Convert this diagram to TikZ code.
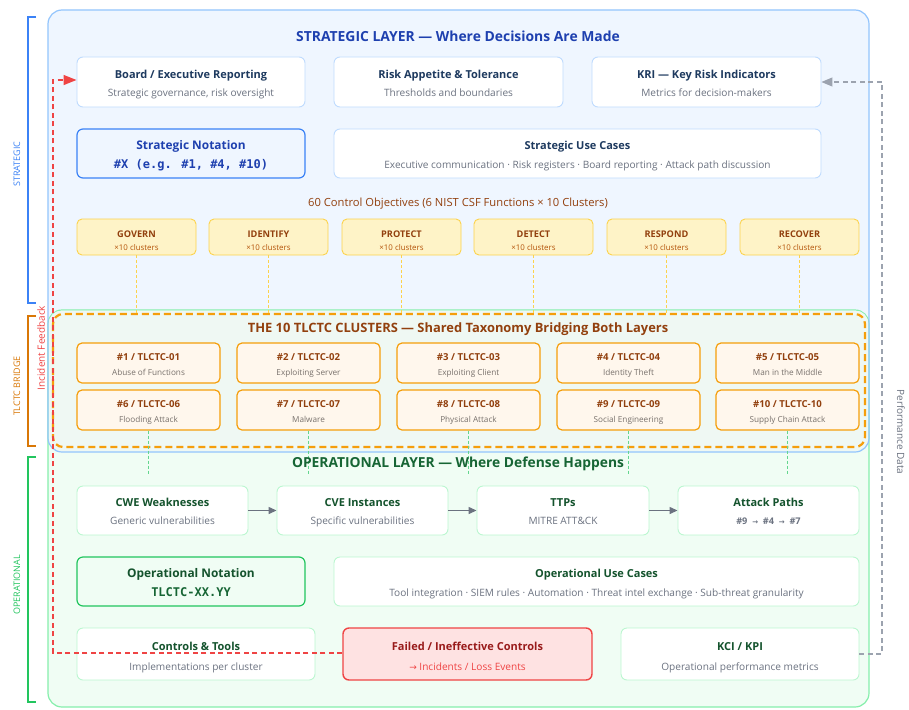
\documentclass[tikz,border=0pt]{standalone}
\usepackage{fontspec}
\setmainfont{Open Sans}
\newfontfamily\monof{DejaVu Sans Mono}
\newfontfamily\symf{DejaVu Sans}
\usetikzlibrary{fit,arrows.meta,calc}
\definecolor{stratFill}{HTML}{EFF6FF}
\definecolor{stratBorder}{HTML}{93C5FD}
\definecolor{opFill}{HTML}{F0FDF4}
\definecolor{opBorder}{HTML}{86EFAC}
\definecolor{blueDark}{HTML}{1E40AF}
\definecolor{blueMid}{HTML}{3B82F6}
\definecolor{cardBlue}{HTML}{BFDBFE}
\definecolor{navy}{HTML}{1E3A5F}
\definecolor{grayTxt}{HTML}{6B7280}
\definecolor{nistFill}{HTML}{FEF3C7}
\definecolor{nistBorder}{HTML}{FCD34D}
\definecolor{brown}{HTML}{92400E}
\definecolor{brownLight}{HTML}{B45309}
\definecolor{orange}{HTML}{F59E0B}
\definecolor{orangeDark}{HTML}{D97706}
\definecolor{clFill}{HTML}{FFF7ED}
\definecolor{clSub}{HTML}{78716C}
\definecolor{greenDark}{HTML}{166534}
\definecolor{greenTitle}{HTML}{14532D}
\definecolor{greenMid}{HTML}{22C55E}
\definecolor{cardGreen}{HTML}{BBF7D0}
\definecolor{redFill}{HTML}{FEE2E2}
\definecolor{redMain}{HTML}{EF4444}
\definecolor{redDark}{HTML}{991B1B}
\definecolor{perfGray}{HTML}{9CA3AF}
\definecolor{arrowGray}{HTML}{6B7280}
\definecolor{bridgeFill}{HTML}{EFF8F3}
\tikzset{
  layer/.style={rounded corners=14pt, line width=1.2pt},
  scard/.style={draw=cardBlue, fill=white, rounded corners=6pt, line width=0.9pt},
  snote/.style={draw=blueMid, fill=stratFill, rounded corners=6pt, line width=1.2pt},
  nistcard/.style={draw=nistBorder, fill=nistFill, rounded corners=5pt, line width=0.9pt},
  clcard/.style={draw=orange, fill=clFill, rounded corners=5pt, line width=1.2pt},
  ocard/.style={draw=cardGreen, fill=white, rounded corners=6pt, line width=0.9pt},
  onote/.style={draw=greenMid, fill=opFill, rounded corners=6pt, line width=1.2pt},
  redcard/.style={draw=redMain, fill=redFill, rounded corners=6pt, line width=1.4pt},
  stitle/.style={text=navy, font=\fontsize{11}{13}\selectfont\bfseries, inner sep=0pt, text height=8.2pt, text depth=2.4pt},
  otitle/.style={text=greenTitle, font=\fontsize{11}{13}\selectfont\bfseries, inner sep=0pt, text height=8.2pt, text depth=2.4pt},
  subtxt/.style={text=grayTxt, font=\fontsize{10.1}{12}\selectfont, inner sep=0pt, text height=7.6pt, text depth=2.2pt},
  ntitle/.style={text=brown, font=\fontsize{9.2}{11}\selectfont\bfseries, inner sep=0pt, text height=6.8pt, text depth=2pt},
  nsub/.style={text=brownLight, font=\fontsize{7.9}{9}\selectfont, inner sep=0pt, text height=5.9pt, text depth=1.8pt},
  ctitle/.style={text=brown, font=\fontsize{9.6}{11}\selectfont\bfseries, inner sep=0pt, text height=7.1pt, text depth=2.1pt},
  csub/.style={text=clSub, font=\fontsize{8.2}{10}\selectfont, inner sep=0pt, text height=6.1pt, text depth=1.8pt},
  bracketlbl/.style={font=\fontsize{9}{11}\selectfont, inner sep=0pt},
  flowarrow/.style={draw=arrowGray, line width=1.3pt, -{Triangle[length=8pt,width=7pt]}},
  nistlink/.style={draw=nistBorder, line width=0.8pt, dash pattern=on 3pt off 2pt},
  cllink/.style={draw=greenMid!70, line width=0.8pt, dash pattern=on 3pt off 2pt},
}
% #1 name, #2 style, #3 corner, #4 corner, #5 title style, #6 title, #7 sub style, #8 sub, #9 title offset; sub offset via \suboff
\newcommand\suboff{10pt}
\newcommand\mkbox[9]{%
  \node[#2, fit={#3 #4}, inner sep=0pt] (#1) {};
  \node[#5] (#1-t) at ([yshift=#9-1.8pt]#1.center) {#6};
  \node[#7] (#1-s) at ([yshift=-\suboff-1.8pt]#1.center) {#8};
}
\begin{document}
\begin{tikzpicture}[x=1pt,y=-1pt]
\useasboundingbox (0,0) rectangle (909,709);
\fill[white] (0,0) rectangle (909,709);
% layers
\fill[stratFill, layer] (48,10) rectangle (869,452);
\path[fill=opFill, draw=opBorder, layer] (48,310) rectangle (869,707);
\fill[bridgeFill, rounded corners=13pt] (48.6,310.6) -- (868.4,310.6) -- (868.4,451.4) -- (48.6,451.4) -- cycle;
\draw[stratBorder, layer] (48,10) rectangle (869,452);
\node[text=blueDark, font=\fontsize{13.9}{16}\selectfont\bfseries, inner sep=0pt] (stitle) at (458,36) {STRATEGIC LAYER — Where Decisions Are Made};
% left brackets
\draw[blueMid, line width=1.2pt] (36,17) -- (28,17) -- (28,303) -- (36,303);
\node[bracketlbl, text=blueMid, rotate=90] (lblS) at (17,164) {STRATEGIC};
\draw[orangeDark, line width=1.6pt] (36,316) -- (28,316) -- (28,446) -- (36,446);
\node[bracketlbl, text=orangeDark, rotate=90] (lblB) at (17,386) {TLCTC BRIDGE};
\draw[greenMid, line width=1.2pt] (36,457) -- (28,457) -- (28,702) -- (36,702);
\node[bracketlbl, text=greenMid, rotate=90] (lblO) at (17,585) {OPERATIONAL};
% strategic row 1
\renewcommand\suboff{10pt}
\mkbox{board}{scard}{(77,57)}{(305,107)}{stitle}{Board / Executive Reporting}{subtxt}{Strategic governance, risk oversight}{8pt}
\mkbox{risk}{scard}{(334,57)}{(563,107)}{stitle}{Risk Appetite \& Tolerance}{subtxt}{Thresholds and boundaries}{8pt}
\mkbox{kri}{scard}{(592,57)}{(821,107)}{stitle}{KRI — Key Risk Indicators}{subtxt}{Metrics for decision-makers}{8pt}
% strategic row 2
\node[snote, fit={(77,129) (305,178)}, inner sep=0pt] (snot) {};
\node[text=blueDark, font=\fontsize{11.9}{14}\selectfont\bfseries, inner sep=0pt, text height=8.8pt, text depth=2.6pt] (snot-t) at ([yshift=7pt]snot.center) {Strategic Notation};
\node[text=blueDark, font=\fontsize{12}{14}\selectfont\monof\bfseries, inner sep=0pt, text height=8.8pt, text depth=2.6pt] (snot-s) at ([yshift=-12pt]snot.center) {\#X (e.g. \#1, \#4, \#10)};
\renewcommand\suboff{10.5pt}
\mkbox{suse}{scard}{(334,129)}{(821,178)}{stitle}{Strategic Use Cases}{subtxt}{Executive communication · Risk registers · Board reporting · Attack path discussion}{8.5pt}
% NIST
\node[text=brown, font=\fontsize{11.2}{13}\selectfont, inner sep=0pt] (ctrlobj) at (458,204) {60 Control Objectives (6 NIST CSF Functions × 10 Clusters)};
\renewcommand\suboff{10pt}
\foreach \nm/\lbl/\xa in {gov/GOVERN/77, ide/IDENTIFY/209, pro/PROTECT/342, det/DETECT/474, res/RESPOND/607, rec/RECOVER/740}{
  \mkbox{\nm}{nistcard}{(\xa,219)}{(\xa+119,255)}{ntitle}{\lbl}{nsub}{×10 clusters}{4pt}
}
% bridge
\draw[orange, line width=2.2pt, dash pattern=on 7pt off 4pt, rounded corners=10pt] (53,314) rectangle (865,447);
\node[fit={(53,314) (865,447)}, inner sep=0pt] (bridge) {};
\foreach \nm in {gov,ide,pro,det,res,rec}{
  \draw[nistlink] (\nm.south) -- (\nm.south |- bridge.north);
}
\node[text=brown, font=\fontsize{12.9}{15}\selectfont\bfseries, inner sep=0pt] (btitle) at (458,329) {THE 10 TLCTC CLUSTERS — Shared Taxonomy Bridging Both Layers};
\renewcommand\suboff{9pt}
\foreach \i/\lbl/\xa in {1/Abuse of Functions/77, 2/Exploiting Server/237, 3/Exploiting Client/397, 4/Identity Theft/557, 5/Man in the Middle/716}{
  \mkbox{c\i}{clcard}{(\xa,343)}{(\xa+143,383)}{ctitle}{\#\i\ / TLCTC-0\i}{csub}{\lbl}{7pt}
}
\foreach \i/\num/\lbl/\xa in {6/06/Flooding Attack/77, 7/07/Malware/237, 8/08/Physical Attack/397, 9/09/Social Engineering/557, 10/10/Supply Chain Attack/716}{
  \mkbox{c\i}{clcard}{(\xa,390)}{(\xa+143,430)}{ctitle}{\#\i\ / TLCTC-\num}{csub}{\lbl}{7pt}
}
\coordinate (optop) at (0,474);
\foreach \i in {6,7,8,9,10}{
  \draw[cllink] (c\i.south) -- (c\i.south |- optop);
}
\node[text=greenDark, font=\fontsize{13.8}{16}\selectfont\bfseries, inner sep=0pt] (otitle) at (458,464) {OPERATIONAL LAYER — Where Defense Happens};
% operational row 1
\renewcommand\suboff{9.5pt}
\mkbox{cwe}{ocard}{(77,486)}{(248,535)}{otitle}{CWE Weaknesses}{subtxt}{Generic vulnerabilities}{8.5pt}
\mkbox{cve}{ocard}{(277,486)}{(448,535)}{otitle}{CVE Instances}{subtxt}{Specific vulnerabilities}{8.5pt}
\mkbox{ttp}{ocard}{(477,486)}{(649,535)}{otitle}{TTPs}{subtxt}{MITRE ATT\&CK}{8.5pt}
\mkbox{ap}{ocard}{(678,486)}{(859,535)}{otitle}{Attack Paths}{subtxt}{\bfseries\fontsize{9.2}{11}\selectfont\#9 \ {\symf\fontsize{7}{9}\selectfont →} \ \#4 \ {\symf\fontsize{7}{9}\selectfont →} \ \#7}{8.5pt}
\draw[flowarrow] (cwe) -- (cve);
\draw[flowarrow] (cve) -- (ttp);
\draw[flowarrow] (ttp) -- (ap);
% operational row 2
\node[onote, fit={(77,557) (305,606)}, inner sep=0pt] (onot) {};
\node[text=greenTitle, font=\fontsize{11.9}{14}\selectfont\bfseries, inner sep=0pt, text height=8.8pt, text depth=2.6pt] (onot-t) at ([yshift=7pt]onot.center) {Operational Notation};
\node[text=greenDark, font=\fontsize{12}{14}\selectfont\monof\bfseries, inner sep=0pt, text height=8.8pt, text depth=2.6pt] (onot-s) at ([yshift=-12pt]onot.center) {TLCTC-XX.YY};
\renewcommand\suboff{10.5pt}
\mkbox{ouse}{ocard}{(334,557)}{(859,606)}{otitle}{Operational Use Cases}{subtxt}{Tool integration · SIEM rules · Automation · Threat intel exchange · Sub-threat granularity}{8.5pt}
% operational row 3
\renewcommand\suboff{12pt}
\mkbox{ctl}{ocard}{(77,628)}{(315,680)}{otitle}{Controls \& Tools}{subtxt}{Implementations per cluster}{8pt}
\node[redcard, fit={(343,628) (592,680)}, inner sep=0pt] (fail) {};
\mkbox{kci}{ocard}{(621,628)}{(859,680)}{otitle}{KCI / KPI}{subtxt}{Operational performance metrics}{8pt}
% incident feedback
\coordinate (ifA) at (53,653);
\coordinate (ifB) at (53,80);
\draw[redMain, line width=1.3pt, dash pattern=on 5pt off 3.5pt, -{Triangle[length=13pt,width=10pt]}] (fail.west |- ifA) -- (ifA) -- (ifB) -- (board.west |- ifB);
\node[text=redDark, font=\fontsize{11}{13}\selectfont\bfseries, inner sep=0pt, text height=8.2pt, text depth=2.4pt] (fail-t) at ([yshift=6.2pt]fail.center) {Failed / Ineffective Controls};
\node[text=redMain, font=\fontsize{10.1}{12}\selectfont, inner sep=0pt, text height=7.6pt, text depth=2.2pt] (fail-s) at ([yshift=-13.8pt]fail.center) {{\symf\fontsize{9}{12}\selectfont →} Incidents / Loss Events};
\node[text=redMain, font=\fontsize{10}{12}\selectfont, rotate=90, inner sep=0pt] (iflbl) at (41,348) {Incident Feedback};
% performance data
\coordinate (pdA) at (882,654);
\coordinate (pdB) at (882,82);
\draw[perfGray, line width=1.1pt, dash pattern=on 5pt off 3.5pt, -{Triangle[length=11pt,width=9pt]}] (kci.east |- pdA) -- (pdA) -- (pdB) -- (kri.east |- pdB);
\node[text=grayTxt, font=\fontsize{10}{12}\selectfont, rotate=-90, inner sep=0pt] (pdlbl) at (901,432) {Performance Data};
\end{tikzpicture}
\end{document}
